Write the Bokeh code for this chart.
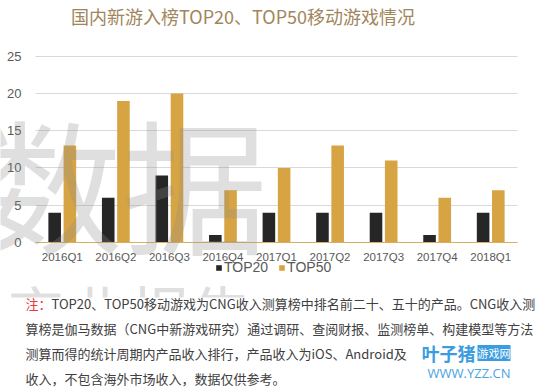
from bokeh.plotting import figure
from bokeh.models import (ColumnDataSource, Label, Legend, LegendItem, FixedTicker,
                          Range1d, BoxAnnotation)
from bokeh.transform import dodge
from bokeh.embed import file_html
from bokeh.resources import INLINE

categories = ["2016Q1", "2016Q2", "2016Q3", "2016Q4", "2017Q1",
              "2017Q2", "2017Q3", "2017Q4", "2018Q1"]
top20 = [4, 6, 9, 1, 4, 4, 4, 1, 4]
top50 = [13, 19, 20, 7, 10, 13, 11, 6, 7]
y_ticks = [0, 5, 10, 15, 20, 25]
series_names = ["TOP20", "TOP50"]
title_text = "国内新游入榜TOP20、TOP50移动游戏情况"
note_head = "注："
note_lines = [
    "TOP20、TOP50移动游戏为CNG收入测算榜中排名前二十、五十的产品。CNG收入测",
    "算榜是伽马数据（CNG中新游戏研究）通过调研、查阅财报、监测榜单、构建模型等方法",
    "测算而得的统计周期内产品收入排行，产品收入为iOS、Android及",
    "收入，不包含海外市场收入，数据仅供参考。",
]
watermark1 = "数据"
watermark2 = "产业报告"
logo_name, logo_tag, logo_url = "叶子猪", "游戏网", "WWW.YZZ.CN"

CJK = "Noto Sans CJK SC"
LAT = "Liberation Sans"
GRAY = "#595959"

W, H = 540, 391
# plot-area geometry (pixels): category band 35..517, value 0 at 242, 25 at 55.7
PX_X = (517 - 35) / len(categories)
PX_Y = (242 - 55.7) / 25


def dx(px):
    return -0.5 + (px - 35) / PX_X


def dy(py):
    return (242 - py) / PX_Y


src = ColumnDataSource(dict(x=list(range(len(categories))), top20=top20, top50=top50))

p = figure(width=W, height=H, output_backend="svg", toolbar_location=None,
           x_range=Range1d(dx(0), dx(W)), y_range=Range1d(dy(H), dy(0)), min_border=0)
p.outline_line_color = None

r20 = p.vbar(x=dodge("x", -0.142), top="top20", width=0.235, source=src,
             fill_color="#262626", line_color=None)
r50 = p.vbar(x=dodge("x", 0.142), top="top50", width=0.235, source=src,
             fill_color="#d7a444", line_color=None)

p.xgrid.visible = False
ygrid = p.ygrid[0]
ygrid.ticker = FixedTicker(ticks=y_ticks)
ygrid.grid_line_color = "#d9d9d9"
if hasattr(ygrid, "cross_bounds"):
    ygrid.cross_bounds = (-0.5, len(categories) - 0.5)
else:
    ygrid.visible = False
    p.segment(x0=[-0.5] * len(y_ticks), x1=[len(categories) - 0.5] * len(y_ticks),
              y0=y_ticks, y1=y_ticks, line_color="#d9d9d9", line_width=1, level="underlay")

xa = p.xaxis[0]
xa.fixed_location = 0
xa.bounds = (-0.5, len(categories) - 0.5)
xa.ticker = FixedTicker(ticks=list(range(len(categories))))
xa.major_label_overrides = {i: c for i, c in enumerate(categories)}
xa.axis_line_color = "#d9b060"
xa.major_tick_line_color = None
xa.major_tick_out = 0
xa.major_tick_in = 0
xa.minor_tick_line_color = None
xa.major_label_text_font = LAT
xa.major_label_text_font_size = "11.5px"
xa.major_label_text_color = GRAY
xa.major_label_standoff = 8

ya = p.yaxis[0]
ya.fixed_location = -0.5
ya.ticker = FixedTicker(ticks=y_ticks)
ya.axis_line_color = None
ya.major_tick_line_color = None
ya.major_tick_out = 0
ya.major_tick_in = 0
ya.minor_tick_line_color = None
ya.major_label_text_font = LAT
ya.major_label_text_font_size = "13px"
ya.major_label_text_color = GRAY
ya.major_label_standoff = 14

legend = Legend(items=[LegendItem(label=series_names[0], renderers=[r20]),
                       LegendItem(label=series_names[1], renderers=[r50])],
                orientation="horizontal", location=(215, H - 275), padding=0, margin=0,
                spacing=10, glyph_width=7, glyph_height=7, label_standoff=2,
                label_height=16, label_text_font=LAT, label_text_font_size="14px",
                label_text_color=GRAY, border_line_color=None, background_fill_alpha=0)
p.add_layout(legend, "center")

# faint background watermarks
p.add_layout(Label(x=dx(122), y=dy(180), text=watermark1, text_align="center",
                   text_baseline="middle", text_font=CJK, text_font_size="145px",
                   text_color="#8c8c8c", text_alpha=0.28))
p.add_layout(Label(x=dx(4), y=dy(266), text=watermark2, text_align="left",
                   text_baseline="top", text_font=CJK, text_font_size="62px",
                   text_color="#8c8c8c", text_alpha=0.28))
p.add_layout(BoxAnnotation(left=dx(0), right=dx(W), top=dy(297), bottom=dy(H),
                           fill_color="white", fill_alpha=1, line_color=None))

# title
p.add_layout(Label(x=dx(242.5), y=dy(15), text=title_text, text_align="center",
                   text_baseline="middle", text_font=CJK, text_font_size="18px",
                   text_color="#a1865c"))

# notes
line_x = [51, 25, 25, 25]
line_y = [303, 328, 353, 378]
p.add_layout(Label(x=dx(25), y=dy(line_y[0]), text=note_head, text_baseline="middle",
                   text_font=CJK, text_font_size="13px", text_color="#e8383d"))
for lx, ly, line in zip(line_x, line_y, note_lines):
    p.add_layout(Label(x=dx(lx), y=dy(ly), text=line, text_baseline="middle",
                       text_font=CJK, text_font_size="13px", text_color="#404040"))

# logo
p.add_layout(Label(x=dx(421), y=dy(352.5), text=logo_name, text_baseline="middle",
                   text_font=CJK, text_font_size="18px", text_font_style="bold",
                   text_color="#3b9de0"))
p.add_layout(Label(x=dx(477), y=dy(352.5), text=logo_tag, text_baseline="middle",
                   text_font=CJK, text_font_size="11px", text_color="white",
                   background_fill_color="#3b9de0"))
p.add_layout(Label(x=dx(427), y=dy(372.5), text=logo_url, text_baseline="middle",
                   text_font="Open Sans", text_font_size="13px", text_color="#4aa3df"))

open("out.html", "w").write(file_html(p, INLINE))
